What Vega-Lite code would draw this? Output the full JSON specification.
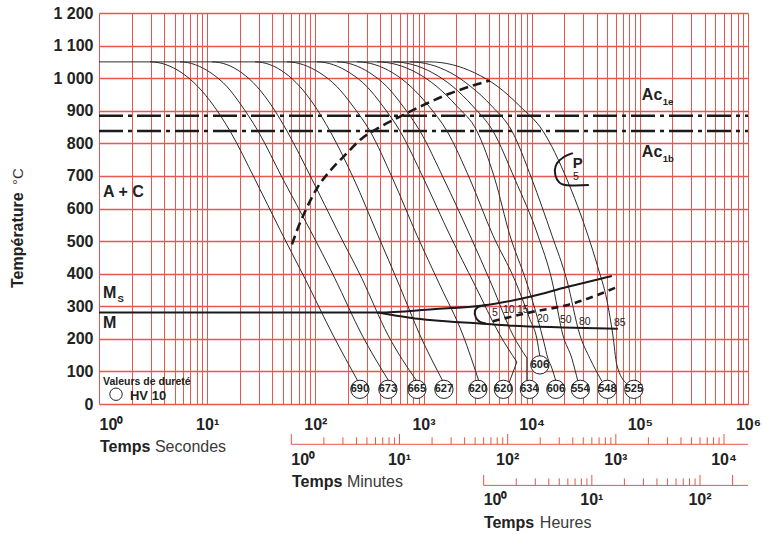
{
"$schema":"https://vega.github.io/schema/vega-lite/v6.json",
"width":649,"height":391,
"autosize":{"type":"none"},
"padding":{"left":99,"top":13,"right":15,"bottom":130},
"background":"white",
"config":{"view":{"stroke":null},"font":"Liberation Sans"},
"datasets":{
"curves":[
{"c":"c1","t":1,"T":1050},{"c":"c1","t":2.96,"T":1050},{"c":"c1","t":5.85,"T":1016},{"c":"c1","t":8.22,"T":974},{"c":"c1","t":11.56,"T":914},{"c":"c1","t":16.25,"T":838},{"c":"c1","t":27.65,"T":690},{"c":"c1","t":47.08,"T":535},{"c":"c1","t":80.15,"T":385},{"c":"c1","t":145.4,"T":212},{"c":"c1","t":247.6,"T":70},
{"c":"c2","t":2.96,"T":1050},{"c":"c2","t":5.61,"T":1050},{"c":"c2","t":10.84,"T":1016},{"c":"c2","t":15.25,"T":974},{"c":"c2","t":20.97,"T":914},{"c":"c2","t":29.48,"T":838},{"c":"c2","t":50.18,"T":690},{"c":"c2","t":89.15,"T":535},{"c":"c2","t":151.8,"T":385},{"c":"c2","t":269.6,"T":212},{"c":"c2","t":478.8,"T":70},
{"c":"c3","t":5.61,"T":1050},{"c":"c3","t":11.07,"T":1050},{"c":"c3","t":20.97,"T":1016},{"c":"c3","t":28.86,"T":974},{"c":"c3","t":39.71,"T":914},{"c":"c3","t":54.64,"T":838},{"c":"c3","t":93.03,"T":690},{"c":"c3","t":158.4,"T":535},{"c":"c3","t":269.6,"T":385},{"c":"c3","t":468.8,"T":212},{"c":"c3","t":869,"T":70},
{"c":"c4","t":11.07,"T":1050},{"c":"c4","t":27.65,"T":1050},{"c":"c4","t":52.37,"T":1016},{"c":"c4","t":72.05,"T":974},{"c":"c4","t":99.15,"T":914},{"c":"c4","t":136.4,"T":838},{"c":"c4","t":227.4,"T":690},{"c":"c4","t":378.9,"T":518},{"c":"c4","t":605.2,"T":360},{"c":"c4","t":926.3,"T":212},{"c":"c4","t":1512,"T":70},
{"c":"c5","t":27.65,"T":1050},{"c":"c5","t":54.64,"T":1050},{"c":"c5","t":110.3,"T":1016},{"c":"c5","t":158.4,"T":974},{"c":"c5","t":222.6,"T":914},{"c":"c5","t":319.6,"T":838},{"c":"c5","t":521.4,"T":690},{"c":"c5","t":869,"T":518},{"c":"c5","t":1418,"T":365},{"c":"c5","t":2313,"T":212},{"c":"c5","t":3251,"T":70},
{"c":"c6","t":54.64,"T":1050},{"c":"c6","t":103.5,"T":1050},{"c":"c6","t":208.8,"T":1016},{"c":"c6","t":299.9,"T":974},{"c":"c6","t":421.5,"T":914},{"c":"c6","t":605.2,"T":838},{"c":"c6","t":1008.5,"T":690},{"c":"c6","t":1754,"T":518},{"c":"c6","t":2986,"T":365},{"c":"c6","t":5083,"T":212},{"c":"c6","t":7298,"T":129},
{"c":"c7","t":103.5,"T":1050},{"c":"c7","t":158.4,"T":1050},{"c":"c7","t":319.6,"T":1016},{"c":"c7","t":458.9,"T":974},{"c":"c7","t":645.1,"T":914},{"c":"c7","t":926.3,"T":838},{"c":"c7","t":1544,"T":690},{"c":"c7","t":2685,"T":518},{"c":"c7","t":4287,"T":365},{"c":"c7","t":6703,"T":212},{"c":"c7","t":9029,"T":141},
{"c":"c8","t":158.4,"T":1050},{"c":"c8","t":242.4,"T":1050},{"c":"c8","t":521.4,"T":1016},{"c":"c8","t":764.8,"T":974},{"c":"c8","t":1121.7,"T":914},{"c":"c8","t":1646,"T":838},{"c":"c8","t":2685,"T":690},{"c":"c8","t":4379,"T":518},{"c":"c8","t":6994,"T":380},{"c":"c8","t":9624,"T":260},{"c":"c8","t":11169,"T":200},{"c":"c8","t":11906,"T":145},
{"c":"c9","t":242.4,"T":1050},{"c":"c9","t":370.9,"T":1050},{"c":"c9","t":869,"T":1016},{"c":"c9","t":1330,"T":974},{"c":"c9","t":2036,"T":914},{"c":"c9","t":3115,"T":838},{"c":"c9","t":4570,"T":690},{"c":"c9","t":6288,"T":518},{"c":"c9","t":8840,"T":380},{"c":"c9","t":11409,"T":260},{"c":"c9","t":12962,"T":190},{"c":"c9","t":14120,"T":140},{"c":"c9","t":15373,"T":110},{"c":"c9","t":16738,"T":70},
{"c":"c10","t":370.9,"T":1050},{"c":"c10","t":521.4,"T":1050},{"c":"c10","t":1221,"T":1016},{"c":"c10","t":1869,"T":974},{"c":"c10","t":2861,"T":914},{"c":"c10","t":4379,"T":838},{"c":"c10","t":6994,"T":690},{"c":"c10","t":11409,"T":518},{"c":"c10","t":15373,"T":380},{"c":"c10","t":19425,"T":212},{"c":"c10","t":23523,"T":140},{"c":"c10","t":26732,"T":70},
{"c":"c11","t":521.4,"T":1050},{"c":"c11","t":748.7,"T":1050},{"c":"c11","t":1792,"T":1016},{"c":"c11","t":2742,"T":974},{"c":"c11","t":4287,"T":914},{"c":"c11","t":6562,"T":838},{"c":"c11","t":10042,"T":690},{"c":"c11","t":15373,"T":518},{"c":"c11","t":21150,"T":380},{"c":"c11","t":27889,"T":212},{"c":"c11","t":34502,"T":140},{"c":"c11","t":44548,"T":70},
{"c":"c12","t":748.7,"T":1050},{"c":"c12","t":1145.7,"T":1050},{"c":"c12","t":2986,"T":1016},{"c":"c12","t":4871,"T":974},{"c":"c12","t":7779,"T":914},{"c":"c12","t":12691,"T":838},{"c":"c12","t":21150,"T":690},{"c":"c12","t":33064,"T":518},{"c":"c12","t":40911,"T":420},{"c":"c12","t":49548,"T":319},{"c":"c12","t":56286,"T":212},{"c":"c12","t":61296,"T":120},{"c":"c12","t":75825,"T":62}
],
"conn":[
{"c":"k6","t":7298,"T":129},{"c":"k6","t":6156,"T":64},
{"c":"k7","t":9029,"T":141},{"c":"k7","t":9029,"T":64}
],
"bain":[
{"c":"up","t":1,"T":281},{"c":"up","t":378.9,"T":281},{"c":"up","t":1221,"T":291},{"c":"up","t":3540,"T":302},{"c":"up","t":9624,"T":329},{"c":"up","t":21150,"T":359},{"c":"up","t":55101,"T":393},
{"c":"low","t":378.9,"T":281},{"c":"low","t":748.7,"T":265},{"c":"low","t":1221,"T":257},{"c":"low","t":3320,"T":247},{"c":"low","t":6703,"T":240},{"c":"low","t":19425,"T":235},{"c":"low","t":62616,"T":231}
],
"nose":[
{"i":1,"t":3773,"T":303},{"i":2,"t":3182,"T":297},{"i":3,"t":2986,"T":285},{"i":4,"t":3050,"T":265},{"i":5,"t":3320,"T":252},{"i":6,"t":3773,"T":247}
],
"parc":[
{"i":1,"t":24032,"T":770},{"i":2,"t":19841,"T":758},{"i":3,"t":17095,"T":738},{"i":4,"t":16387,"T":717},{"i":5,"t":17095,"T":690},{"i":6,"t":19011,"T":675},{"i":7,"t":33775,"T":672}
],
"dashP":[
{"t":60.78,"T":490},{"t":69.05,"T":540},{"t":80.15,"T":590},{"t":103.5,"T":662},{"t":136.4,"T":715},{"t":179.9,"T":757},{"t":269.6,"T":815},{"t":395.4,"T":850},{"t":631.5,"T":885},{"t":1754,"T":953},{"t":4109,"T":993}
],
"dashB":[
{"t":4379,"T":254},{"t":10258,"T":283},{"t":21607,"T":304},{"t":62616,"T":360}
],
"ac":[
{"n":"Ac1e","t":1,"t2":1000000,"T":885},{"n":"Ac1b","t":1,"t2":1000000,"T":838}
],
"hard":[
{"label":"690","t":258.3,"T":45},{"label":"673","t":468.8,"T":45},{"label":"665","t":869,"T":45},{"label":"627","t":1544,"T":45},{"label":"620","t":3182,"T":45},{"label":"620","t":5476,"T":45},{"label":"634","t":9522,"T":45},{"label":"606","t":11906,"T":120},{"label":"606","t":16738,"T":45},{"label":"554","t":28185,"T":45},{"label":"548","t":50074,"T":45},{"label":"525","t":88018,"T":45}
],
"legendCircle":[{"t":1.436,"T":30}],
"bold16":[
{"s":"A + C","t":1.09,"T":635},{"s":"M","t":1.09,"T":325},{"s":"M","t":1.09,"T":233},
{"s":"Ac","t":104340,"T":933},{"s":"Ac","t":104340,"T":758},
{"s":"Temps","t":1.0215,"T":-145.8},{"s":"Temps","t":60.78,"T":-253.2},{"s":"Temps","t":3616,"T":-380.6}
],
"reg16":[
{"s":"Secondes","t":3.29,"T":-145.8},{"s":"Minutes","t":195.9,"T":-253.2},{"s":"Heures","t":11906,"T":-380.6}
],
"sub":[
{"s":"S","t":1.483,"T":313},{"s":"1e","t":163180,"T":917.6},{"s":"1b","t":163180,"T":743.6}
],
"pLabel":[{"s":"P","t":24032,"T":724}],
"pct":[
{"s":"5","t":4570,"T":278},{"s":"10","t":6156,"T":288},{"s":"15","t":8292,"T":290},{"s":"20","t":12691,"T":261},{"s":"50","t":20705,"T":258},{"s":"80","t":31020,"T":251},{"s":"85","t":65341,"T":250},{"s":"5","t":25613,"T":697}
],
"legendTitle":[{"s":"Valeurs de dureté","t":1.09,"T":59.8}],
"legendHV":[{"s":"HV 10","t":1.934,"T":12.3}],
"yTitle":[{"s":"Température","t":0.1784,"T":356}],
"yUnit":[{"s":"°C","t":0.1784,"T":672}],
"axlines":[
{"n":"min","t":60,"t2":1000000,"T":-123.7},{"n":"hr","t":3600,"t2":1000000,"T":-249.8}
],
"minTicks":[
{"t":60,"T":-92.1,"T2":-123.7},{"t":120,"T":-102.2,"T2":-123.7},{"t":180,"T":-102.2,"T2":-123.7},{"t":240,"T":-102.2,"T2":-123.7},{"t":300,"T":-102.2,"T2":-123.7},{"t":360,"T":-102.2,"T2":-123.7},{"t":420,"T":-102.2,"T2":-123.7},{"t":480,"T":-102.2,"T2":-123.7},{"t":540,"T":-102.2,"T2":-123.7},
{"t":600,"T":-92.1,"T2":-123.7},{"t":1200,"T":-102.2,"T2":-123.7},{"t":1800,"T":-102.2,"T2":-123.7},{"t":2400,"T":-102.2,"T2":-123.7},{"t":3000,"T":-102.2,"T2":-123.7},{"t":3600,"T":-102.2,"T2":-123.7},{"t":4200,"T":-102.2,"T2":-123.7},{"t":4800,"T":-102.2,"T2":-123.7},{"t":5400,"T":-102.2,"T2":-123.7},
{"t":6000,"T":-92.1,"T2":-123.7},{"t":12000,"T":-102.2,"T2":-123.7},{"t":18000,"T":-102.2,"T2":-123.7},{"t":24000,"T":-102.2,"T2":-123.7},{"t":30000,"T":-102.2,"T2":-123.7},{"t":36000,"T":-102.2,"T2":-123.7},{"t":42000,"T":-102.2,"T2":-123.7},{"t":48000,"T":-102.2,"T2":-123.7},{"t":54000,"T":-102.2,"T2":-123.7},
{"t":60000,"T":-92.1,"T2":-123.7},{"t":120000,"T":-102.2,"T2":-123.7},{"t":180000,"T":-102.2,"T2":-123.7},{"t":240000,"T":-102.2,"T2":-123.7},{"t":300000,"T":-102.2,"T2":-123.7},{"t":360000,"T":-102.2,"T2":-123.7},{"t":420000,"T":-102.2,"T2":-123.7},{"t":480000,"T":-102.2,"T2":-123.7},{"t":540000,"T":-102.2,"T2":-123.7},
{"t":600000,"T":-92.1,"T2":-123.7}
],
"hrTicks":[
{"t":3600,"T":-217.9,"T2":-249.8},{"t":7200,"T":-228.3,"T2":-249.8},{"t":10800,"T":-228.3,"T2":-249.8},{"t":14400,"T":-228.3,"T2":-249.8},{"t":18000,"T":-228.3,"T2":-249.8},{"t":21600,"T":-228.3,"T2":-249.8},{"t":25200,"T":-228.3,"T2":-249.8},{"t":28800,"T":-228.3,"T2":-249.8},{"t":32400,"T":-228.3,"T2":-249.8},
{"t":36000,"T":-217.9,"T2":-249.8},{"t":72000,"T":-228.3,"T2":-249.8},{"t":108000,"T":-228.3,"T2":-249.8},{"t":144000,"T":-228.3,"T2":-249.8},{"t":180000,"T":-228.3,"T2":-249.8},{"t":216000,"T":-228.3,"T2":-249.8},{"t":252000,"T":-228.3,"T2":-249.8},{"t":288000,"T":-228.3,"T2":-249.8},{"t":324000,"T":-228.3,"T2":-249.8},
{"t":360000,"T":-217.9,"T2":-249.8},{"t":720000,"T":-217.9,"T2":-249.8}
],
"axLabels":[
{"s":"10⁰","t":60,"T":-187.2},{"s":"10¹","t":600,"T":-187.2},{"s":"10²","t":6000,"T":-187.2},{"s":"10³","t":60000,"T":-187.2},{"s":"10⁴","t":600000,"T":-187.2},
{"s":"10⁰","t":3600,"T":-310},{"s":"10¹","t":36000,"T":-310},{"s":"10²","t":360000,"T":-310}
]
},
"encoding":{
"x":{"field":"t","type":"quantitative","scale":{"type":"log","domain":[1,1000000],"nice":false},
 "axis":{"title":null,"values":[1,2,3,4,5,6,7,8,9,10,20,30,40,50,60,70,80,90,100,200,300,400,500,600,700,800,900,1000,2000,3000,4000,5000,6000,7000,8000,9000,10000,20000,30000,40000,50000,60000,70000,80000,90000,100000,200000,300000,400000,500000,600000,700000,800000,900000,1000000],
 "labelExpr":"abs(log(datum.value)/LN10 - round(log(datum.value)/LN10)) < 0.001 ? '10' + ['⁰','¹','²','³','⁴','⁵','⁶'][round(log(datum.value)/LN10)] : ''",
 "labelAlign":{"condition":{"test":"datum.value == 1","value":"left"},"value":"center"},
 "labelFlush":false,"labelOverlap":false,"labelBound":false,
 "labelFont":"Liberation Sans","labelFontSize":16,"labelFontWeight":"bold","labelColor":"#222","labelPadding":12,
 "ticks":false,"domain":false,"grid":true,"gridColor":"#e9564d","gridWidth":1}},
"y":{"field":"T","type":"quantitative","scale":{"domain":[0,1200],"nice":false,"zero":false},
 "axis":{"title":null,"values":[0,100,200,300,400,500,600,700,800,900,1000,1100,1200],
 "labelExpr":"replace(format(datum.value, ','), ',', ' ')",
 "labelFont":"Liberation Sans","labelFontSize":16,"labelFontWeight":"bold","labelColor":"#222","labelPadding":6,
 "ticks":false,"domain":false,"grid":true,"gridColor":"#e9564d","gridWidth":1.3}}
},
"layer":[
{"data":{"name":"ac"},"mark":{"type":"rule","color":"#1a1a1a","strokeWidth":2.5,"strokeDash":[24,5,4,5]},"encoding":{"x2":{"field":"t2"}}},
{"data":{"name":"curves"},"mark":{"type":"line","interpolate":"monotone","color":"#2b2b2b","strokeWidth":1},"encoding":{"detail":{"field":"c"}}},
{"data":{"name":"conn"},"mark":{"type":"line","color":"#2b2b2b","strokeWidth":1},"encoding":{"detail":{"field":"c"}}},
{"data":{"name":"bain"},"mark":{"type":"line","interpolate":"monotone","color":"#1a1a1a","strokeWidth":2},"encoding":{"detail":{"field":"c"}}},
{"data":{"name":"nose"},"mark":{"type":"line","interpolate":"catmull-rom","color":"#1a1a1a","strokeWidth":2},"encoding":{"order":{"field":"i"}}},
{"data":{"name":"parc"},"mark":{"type":"line","interpolate":"catmull-rom","color":"#1a1a1a","strokeWidth":2},"encoding":{"order":{"field":"i"}}},
{"data":{"name":"dashP"},"mark":{"type":"line","interpolate":"monotone","color":"#1a1a1a","strokeWidth":2.6,"strokeDash":[9,5]},"encoding":{}},
{"data":{"name":"dashB"},"mark":{"type":"line","interpolate":"monotone","color":"#1a1a1a","strokeWidth":2.6,"strokeDash":[7,5]},"encoding":{}},
{"data":{"name":"hard"},"mark":{"type":"point","shape":"circle","size":335,"filled":true,"fill":"white","stroke":"#222","strokeWidth":1,"opacity":1}},
{"data":{"name":"hard"},"mark":{"type":"text","font":"Liberation Sans","fontSize":11,"fontWeight":"bold","color":"#222","align":"center","baseline":"middle"},"encoding":{"text":{"field":"label"}}},
{"data":{"name":"legendCircle"},"mark":{"type":"point","shape":"circle","size":154,"filled":true,"fill":"white","stroke":"#222","strokeWidth":1,"opacity":1}},
{"data":{"name":"bold16"},"mark":{"type":"text","font":"Liberation Sans","fontSize":16,"fontWeight":"bold","color":"#222","align":"left","baseline":"alphabetic"},"encoding":{"text":{"field":"s"}}},
{"data":{"name":"reg16"},"mark":{"type":"text","font":"Liberation Sans","fontSize":16,"fontWeight":"normal","color":"#3a3a3a","align":"left","baseline":"alphabetic"},"encoding":{"text":{"field":"s"}}},
{"data":{"name":"sub"},"mark":{"type":"text","font":"Liberation Sans","fontSize":9.5,"fontWeight":"bold","color":"#222","align":"left","baseline":"alphabetic"},"encoding":{"text":{"field":"s"}}},
{"data":{"name":"pLabel"},"mark":{"type":"text","font":"Liberation Sans","fontSize":15,"fontWeight":"bold","color":"#222","align":"left","baseline":"alphabetic"},"encoding":{"text":{"field":"s"}}},
{"data":{"name":"pct"},"mark":{"type":"text","font":"Liberation Sans","fontSize":10.5,"fontWeight":"normal","color":"#222","align":"center","baseline":"middle"},"encoding":{"text":{"field":"s"}}},
{"data":{"name":"legendTitle"},"mark":{"type":"text","font":"Liberation Sans","fontSize":10.5,"fontWeight":"bold","color":"#222","align":"left","baseline":"alphabetic"},"encoding":{"text":{"field":"s"}}},
{"data":{"name":"legendHV"},"mark":{"type":"text","font":"Liberation Sans","fontSize":13,"fontWeight":"bold","color":"#222","align":"left","baseline":"alphabetic"},"encoding":{"text":{"field":"s"}}},
{"data":{"name":"yTitle"},"mark":{"type":"text","font":"Liberation Sans","fontSize":16,"fontWeight":"bold","color":"#222","align":"left","baseline":"middle","angle":270},"encoding":{"text":{"field":"s"}}},
{"data":{"name":"yUnit"},"mark":{"type":"text","font":"Liberation Sans","fontSize":15,"fontWeight":"normal","color":"#3a3a3a","align":"left","baseline":"middle","angle":270},"encoding":{"text":{"field":"s"}}},
{"data":{"name":"axlines"},"mark":{"type":"rule","color":"#e9564d","strokeWidth":1},"encoding":{"x2":{"field":"t2"}}},
{"data":{"name":"minTicks"},"mark":{"type":"rule","color":"#e9564d","strokeWidth":1},"encoding":{"y2":{"field":"T2"}}},
{"data":{"name":"hrTicks"},"mark":{"type":"rule","color":"#e9564d","strokeWidth":1},"encoding":{"y2":{"field":"T2"}}},
{"data":{"name":"axLabels"},"transform":[{"filter":"datum.t == 60 || datum.t == 3600"}],"mark":{"type":"text","font":"Liberation Sans","fontSize":16,"fontWeight":"bold","color":"#222","align":"left","baseline":"alphabetic"},"encoding":{"text":{"field":"s"}}},
{"data":{"name":"axLabels"},"transform":[{"filter":"datum.t != 60 && datum.t != 3600"}],"mark":{"type":"text","font":"Liberation Sans","fontSize":16,"fontWeight":"bold","color":"#222","align":"center","baseline":"alphabetic"},"encoding":{"text":{"field":"s"}}}
]
}
